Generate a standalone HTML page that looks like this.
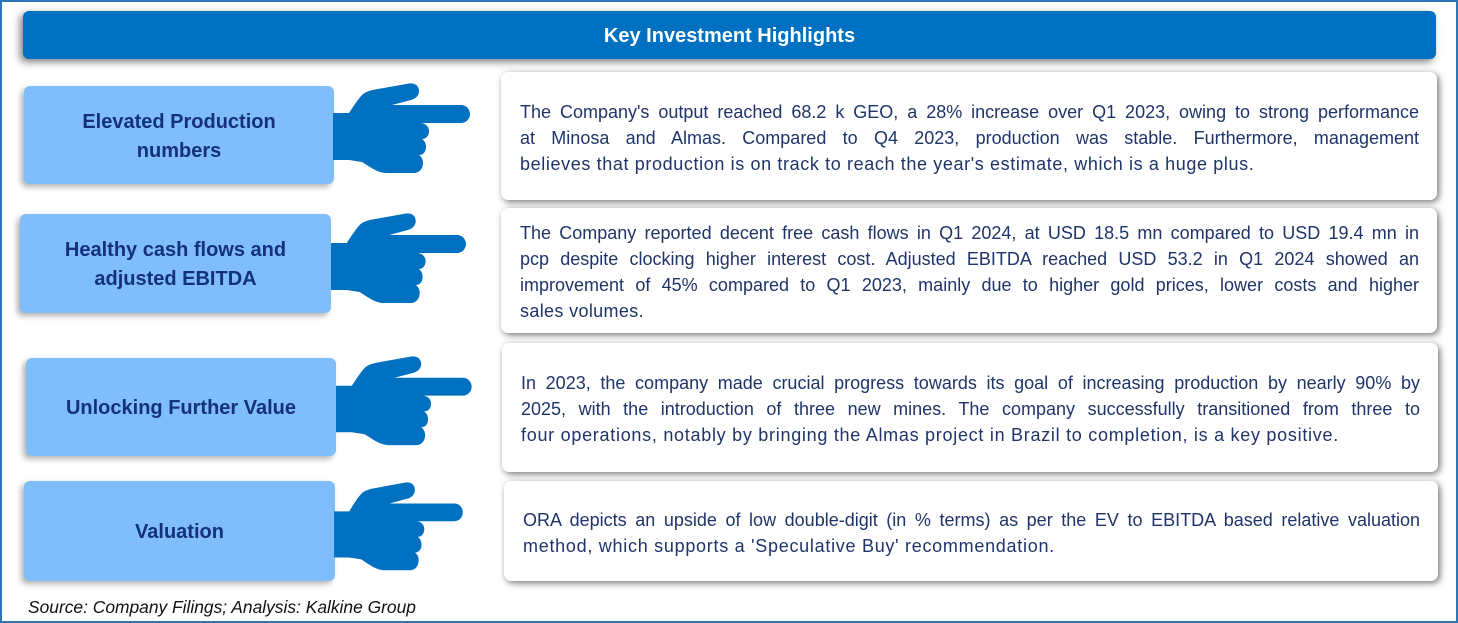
<!DOCTYPE html>
<html>
<head>
<meta charset="utf-8">
<style>
html,body{margin:0;padding:0;background:#fff;}
body{width:1458px;height:623px;position:relative;overflow:hidden;font-family:"Liberation Sans",Arial,sans-serif;}
.frame{position:absolute;left:0;top:0;width:1454px;height:619px;border:2px solid #2E75B6;}
.header{position:absolute;left:23px;top:11px;width:1413px;height:48px;background:#0070C0;border-radius:6px;
 box-shadow:-3px 3px 8px rgba(0,0,0,.5);color:#fff;font-weight:bold;font-size:20px;line-height:50px;text-align:center;}
.lab{position:absolute;background:#7FBDFB;border-radius:6px;box-shadow:-3px 3px 6px rgba(0,0,0,.3);
 color:#14307F;font-weight:bold;font-size:20px;line-height:29px;text-align:center;display:flex;align-items:center;justify-content:center;box-sizing:border-box;padding-top:3px;}
.box{position:absolute;background:#fff;border-radius:7px;box-shadow:2px 2px 7px rgba(0,0,0,.55);
 display:flex;flex-direction:column;justify-content:center;box-sizing:border-box;padding:3px 18px 0 19px;color:#1F3469;font-size:18px;line-height:26px;}
.box div{text-align:justify;text-align-last:justify;white-space:nowrap;}
.box div.l{text-align-last:left;letter-spacing:0.62px;}
.src{position:absolute;left:28px;top:596px;font-style:italic;font-size:17.4px;color:#111;line-height:22px;}
svg{position:absolute;left:0;top:0;}
</style>
</head>
<body>
<div class="frame"></div>
<div class="header">Key Investment Highlights</div>

<div class="lab" style="left:24px;top:86px;width:310px;height:98px;">Elevated Production<br>numbers</div>
<div class="lab" style="left:20px;top:214px;width:311px;height:99px;">Healthy cash flows and<br>adjusted EBITDA</div>
<div class="lab" style="left:26px;top:358px;width:310px;height:98px;">Unlocking Further Value</div>
<div class="lab" style="left:24px;top:481px;width:311px;height:100px;">Valuation</div>

<div class="box" style="left:501px;top:72px;width:936px;height:128px;">
<div>The Company's output reached 68.2 k GEO, a 28% increase over Q1 2023, owing to strong performance</div>
<div>at Minosa and Almas. Compared to Q4 2023, production was stable. Furthermore, management</div>
<div class="l">believes that production is on track to reach the year's estimate, which is a huge plus.</div>
</div>
<div class="box" style="left:501px;top:208px;width:936px;height:125px;">
<div>The Company reported decent free cash flows in Q1 2024, at USD 18.5 mn compared to USD 19.4 mn in</div>
<div>pcp despite clocking higher interest cost. Adjusted EBITDA reached USD 53.2 in Q1 2024 showed an</div>
<div>improvement of 45% compared to Q1 2023, mainly due to higher gold prices, lower costs and higher</div>
<div class="l" style="letter-spacing:0.35px">sales volumes.</div>
</div>
<div class="box" style="left:502px;top:343px;width:936px;height:129px;">
<div>In 2023, the company made crucial progress towards its goal of increasing production by nearly 90% by</div>
<div>2025, with the introduction of three new mines. The company successfully transitioned from three to</div>
<div class="l" style="letter-spacing:0.72px">four operations, notably by bringing the Almas project in Brazil to completion, is a key positive.</div>
</div>
<div class="box" style="left:504px;top:481px;width:934px;height:100px;">
<div>ORA depicts an upside of low double-digit (in % terms) as per the EV to EBITDA based relative valuation</div>
<div class="l" style="letter-spacing:0.72px">method, which supports a 'Speculative Buy' recommendation.</div>
</div>

<svg width="1458" height="623" viewBox="0 0 1458 623">
<defs>
<path id="hand" d="M-1,30 L15,30 C19,24 24,16 29,11 C33,8 38,7 44,6 L75,0.5 C81,-0.5 85,3 85,8 C85,13 81,16 77,17 L58,22 L127,22 C132,22 136,26 136,31 C136,36 132,40 127,40 L86,40 C92,40 95,44 95,48 C95,53 92,56 88,56 C91,58 92,61 92,64 C92,69 89,72 85,72 C88,74 89,77 89,80 C89,86 85,90 80,90 L52,90 C44,90 36,84 28,79 L15,77 L-1,77 Z" fill="#0070C0"/>
</defs>
<use href="#hand" transform="translate(334,83)"/>
<use href="#hand" transform="translate(332,213) scale(0.985,1)"/>
<use href="#hand" transform="translate(337,356) scale(0.99,0.99)"/>
<use href="#hand" transform="translate(335,482) scale(0.94,0.98)"/>
</svg>

<div class="src">Source: Company Filings; Analysis: Kalkine Group</div>
</body>
</html>
